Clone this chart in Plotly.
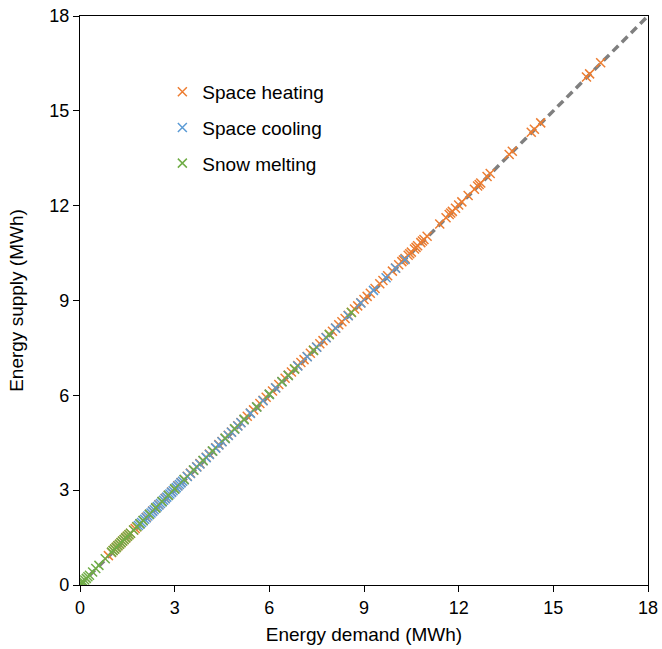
import plotly.graph_objects as go

# Space heating (orange)
heat_x = [0.9, 1.0, 1.05, 1.1, 1.15, 1.2, 1.25, 1.3, 1.35, 1.4, 1.45, 1.5, 1.55, 1.6, 1.7, 1.75, 1.8,
          1.9, 2.0, 2.1, 2.2, 2.3, 2.4, 2.5, 2.6, 2.7, 2.8, 2.9, 3.0, 3.1, 3.2, 3.3, 3.4, 3.5, 3.6,
          3.7, 3.8, 3.9, 4.0, 4.1, 4.2, 4.3, 4.4, 4.5, 4.6, 4.7, 4.8, 4.9, 5.0, 5.1, 5.2, 5.3, 5.4,
          5.5, 5.6, 5.7, 5.8, 5.9, 6.0, 6.1, 6.2, 6.3, 6.4, 6.5, 6.6, 6.7, 6.8, 6.9, 7.0, 7.1, 7.2,
          7.3, 7.4, 7.5, 7.6, 7.7, 7.8, 7.9, 8.0, 8.1, 8.2, 8.3, 8.4, 8.5, 8.6, 8.7, 8.8, 8.9, 9.0,
          9.1, 9.2, 9.35, 9.5, 9.6, 9.75, 9.9, 10.0, 10.1, 10.2, 10.25, 10.3, 10.4, 10.45, 10.5,
          10.6, 10.65, 10.7, 10.8, 10.85, 10.9, 11.0, 11.4, 11.6, 11.7, 11.75, 11.8, 11.9, 12.0,
          12.1, 12.3, 12.5, 12.6, 12.65, 12.7, 12.9, 13.0, 13.6, 13.7, 14.3, 14.4, 14.6, 16.05,
          16.15, 16.5]
heat_y = [0.93, 1.03, 1.09, 1.14, 1.19, 1.24, 1.29, 1.34, 1.39, 1.44, 1.49, 1.54, 1.59, 1.64, 1.74,
          1.79, 1.84, 1.94, 2.04, 2.14, 2.24, 2.34, 2.44, 2.54, 2.64, 2.74, 2.84, 2.94, 3.04, 3.14,
          3.24, 3.34, 3.44, 3.54, 3.64, 3.74, 3.84, 3.94, 4.04, 4.14, 4.24, 4.34, 4.44, 4.54, 4.64,
          4.74, 4.84, 4.94, 5.04, 5.14, 5.24, 5.34, 5.44, 5.54, 5.64, 5.74, 5.84, 5.94, 6.04, 6.14,
          6.24, 6.34, 6.44, 6.54, 6.64, 6.74, 6.84, 6.94, 7.04, 7.13, 7.23, 7.33, 7.43, 7.53, 7.63,
          7.73, 7.83, 7.93, 8.03, 8.13, 8.23, 8.33, 8.43, 8.53, 8.63, 8.73, 8.83, 8.93, 9.03, 9.13,
          9.23, 9.38, 9.53, 9.63, 9.78, 9.93, 10.03, 10.13, 10.23, 10.28, 10.33, 10.43, 10.48, 10.53,
          10.63, 10.68, 10.73, 10.83, 10.88, 10.93, 11.03, 11.42, 11.62, 11.72, 11.77, 11.82, 11.92,
          12.02, 12.12, 12.32, 12.52, 12.62, 12.67, 12.72, 12.92, 13.02, 13.62, 13.72, 14.32, 14.42,
          14.62, 16.07, 16.17, 16.52]

# Space cooling (blue)
cool_x = [1.85, 1.9, 1.95, 2.0, 2.05, 2.1, 2.15, 2.2, 2.25, 2.3, 2.35, 2.4, 2.45, 2.5, 2.55, 2.6,
          2.65, 2.7, 2.75, 2.8, 2.85, 2.9, 2.95, 3.0, 3.05, 3.1, 3.15, 3.2, 3.25, 3.3, 3.4, 3.5,
          3.6, 3.7, 3.8, 3.9, 4.0, 4.1, 4.2, 4.3, 4.4, 4.5, 4.6, 4.7, 4.8, 4.9, 5.0, 5.1, 5.2,
          5.4, 5.6, 5.8, 6.0, 6.2, 6.4, 6.6, 6.9, 7.2, 7.5, 7.8, 8.1, 8.5, 8.9, 9.3, 9.7, 10.0,
          10.3]
cool_y = [1.88, 1.93, 1.98, 2.03, 2.08, 2.13, 2.18, 2.23, 2.28, 2.33, 2.38, 2.43, 2.48, 2.53, 2.58,
          2.63, 2.68, 2.73, 2.78, 2.83, 2.88, 2.93, 2.98, 3.03, 3.08, 3.13, 3.18, 3.23, 3.28, 3.33,
          3.43, 3.53, 3.63, 3.73, 3.83, 3.93, 4.03, 4.13, 4.23, 4.33, 4.43, 4.53, 4.63, 4.73, 4.83,
          4.93, 5.03, 5.13, 5.23, 5.43, 5.63, 5.83, 6.03, 6.23, 6.43, 6.63, 6.93, 7.22, 7.52, 7.82,
          8.12, 8.52, 8.92, 9.32, 9.72, 10.02, 10.3]

# Snow melting (green)
snow_x = [0.0, 0.02, 0.05, 0.08, 0.1, 0.15, 0.2, 0.25, 0.3, 0.4, 0.5, 0.6, 0.8, 1.0, 1.05, 1.1,
          1.15, 1.2, 1.25, 1.3, 1.35, 1.4, 1.45, 1.5, 1.55, 1.6, 1.7, 1.8, 1.9, 2.0, 2.2, 2.4,
          2.6, 2.8, 3.0, 3.3, 3.6, 3.9, 4.2, 4.6, 4.9, 5.2, 5.6, 6.0, 6.4, 6.6, 6.8, 7.4, 7.9,
          8.6]
snow_y = [0.0, 0.02, 0.05, 0.08, 0.11, 0.16, 0.21, 0.26, 0.31, 0.41, 0.52, 0.62, 0.83, 1.04, 1.09,
          1.14, 1.19, 1.24, 1.29, 1.34, 1.39, 1.44, 1.49, 1.54, 1.59, 1.64, 1.74, 1.84, 1.94, 2.04,
          2.24, 2.44, 2.64, 2.84, 3.04, 3.34, 3.64, 3.94, 4.24, 4.64, 4.94, 5.24, 5.63, 6.03, 6.43,
          6.63, 6.83, 7.42, 7.92, 8.62]

ref_line = [0, 18]
ticks = [0, 3, 6, 9, 12, 15, 18]

FONT = "Liberation Sans, Arial, sans-serif"

fig = go.Figure()
fig.add_trace(go.Scatter(x=ref_line, y=ref_line, mode="lines", showlegend=False,
                         line=dict(color="#7f7f7f", width=3.5, dash="8px,5px"), hoverinfo="skip"))

series = [("Space heating", heat_x, heat_y, "#ED7D31"),
          ("Space cooling", cool_x, cool_y, "#5B9BD5"),
          ("Snow melting", snow_x, snow_y, "#70AD47")]
for i, (name, xs, ys, col) in enumerate(series):
    fig.add_trace(go.Scatter(x=xs, y=ys, mode="markers", name=name, legendgroup=f"g{i}",
                             marker=dict(symbol="x-thin-open", size=9,
                                         line=dict(color=col, width=1.5), color=col)))

axis_common = dict(range=[0, 18], tickvals=ticks, ticks="outside", ticklen=6, tickwidth=1,
                   tickcolor="black", showline=True, linecolor="black", linewidth=1.3,
                   mirror=True, showgrid=False, zeroline=False, automargin=False,
                   tickfont=dict(family=FONT, size=18, color="black"))

fig.update_layout(
    width=662, height=649,
    margin=dict(l=80, r=14, t=16, b=64),
    plot_bgcolor="white", paper_bgcolor="white",
    font=dict(family=FONT, size=19, color="black"),
    xaxis=dict(**axis_common, title=dict(text="Energy demand (MWh)", standoff=10,
                                         font=dict(family=FONT, size=19, color="black"))),
    yaxis=dict(**axis_common, title=dict(text="Energy supply (MWh)", standoff=20,
                                         font=dict(family=FONT, size=19, color="black"))),
    legend=dict(x=0.145, y=0.9, xanchor="left", yanchor="top", bgcolor="rgba(0,0,0,0)",
                tracegroupgap=8, itemwidth=30, font=dict(family=FONT, size=19, color="black"),
                traceorder="grouped"),
)

fig.write_html("out.html")
